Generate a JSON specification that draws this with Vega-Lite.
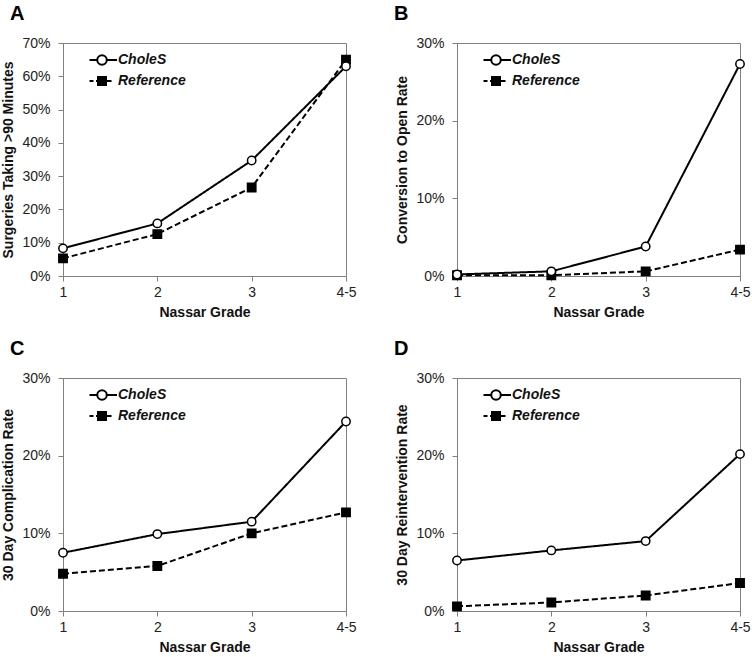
{
  "$schema": "https://vega.github.io/schema/vega-lite/v6.json",
  "padding": {"left": 1, "top": 3, "right": 5, "bottom": 5},
  "background": "white",
  "config": {
    "font": "Liberation Sans",
    "view": {"stroke": "#808080", "strokeWidth": 1},
    "axis": {"grid": false, "domainColor": "#808080", "tickColor": "#808080", "tickSize": 5, "labelFont": "Liberation Sans", "labelFontSize": 14, "labelColor": "#222222", "titleFont": "Liberation Sans", "titleFontSize": 14, "titleFontWeight": "bold", "titleColor": "#111111"},
    "axisX": {"labelAngle": 0, "labelPadding": 4, "titlePadding": 6},
    "axisY": {"labelPadding": 8, "titlePadding": 6},
    "legend": {"orient": "none", "legendX": 32, "legendY": 10, "symbolSize": 100, "labelFont": "Liberation Sans", "labelFontSize": 14, "labelFontWeight": "bold", "labelFontStyle": "italic", "labelColor": "#111111", "labelOffset": 9, "rowPadding": 4, "padding": 0},
    "title": {"fontSize": 20, "fontWeight": "bold", "anchor": "start", "frame": "bounds", "color": "#000000", "font": "Liberation Sans", "offset": 12}
  },
  "datasets": {
    "d": [
      {"panel": "A", "series": "Reference", "grade": "1", "value": 0.053},
      {"panel": "A", "series": "Reference", "grade": "2", "value": 0.126},
      {"panel": "A", "series": "Reference", "grade": "3", "value": 0.266},
      {"panel": "A", "series": "Reference", "grade": "4-5", "value": 0.650},
      {"panel": "A", "series": "CholeS", "grade": "1", "value": 0.083},
      {"panel": "A", "series": "CholeS", "grade": "2", "value": 0.158},
      {"panel": "A", "series": "CholeS", "grade": "3", "value": 0.347},
      {"panel": "A", "series": "CholeS", "grade": "4-5", "value": 0.630},
      {"panel": "B", "series": "Reference", "grade": "1", "value": 0.001},
      {"panel": "B", "series": "Reference", "grade": "2", "value": 0.001},
      {"panel": "B", "series": "Reference", "grade": "3", "value": 0.006},
      {"panel": "B", "series": "Reference", "grade": "4-5", "value": 0.034},
      {"panel": "B", "series": "CholeS", "grade": "1", "value": 0.002},
      {"panel": "B", "series": "CholeS", "grade": "2", "value": 0.006},
      {"panel": "B", "series": "CholeS", "grade": "3", "value": 0.038},
      {"panel": "B", "series": "CholeS", "grade": "4-5", "value": 0.273},
      {"panel": "C", "series": "Reference", "grade": "1", "value": 0.048},
      {"panel": "C", "series": "Reference", "grade": "2", "value": 0.058},
      {"panel": "C", "series": "Reference", "grade": "3", "value": 0.100},
      {"panel": "C", "series": "Reference", "grade": "4-5", "value": 0.127},
      {"panel": "C", "series": "CholeS", "grade": "1", "value": 0.075},
      {"panel": "C", "series": "CholeS", "grade": "2", "value": 0.099},
      {"panel": "C", "series": "CholeS", "grade": "3", "value": 0.115},
      {"panel": "C", "series": "CholeS", "grade": "4-5", "value": 0.244},
      {"panel": "D", "series": "Reference", "grade": "1", "value": 0.006},
      {"panel": "D", "series": "Reference", "grade": "2", "value": 0.011},
      {"panel": "D", "series": "Reference", "grade": "3", "value": 0.020},
      {"panel": "D", "series": "Reference", "grade": "4-5", "value": 0.036},
      {"panel": "D", "series": "CholeS", "grade": "1", "value": 0.065},
      {"panel": "D", "series": "CholeS", "grade": "2", "value": 0.078},
      {"panel": "D", "series": "CholeS", "grade": "3", "value": 0.090},
      {"panel": "D", "series": "CholeS", "grade": "4-5", "value": 0.202}
    ]
  },
  "bounds": "flush",
  "columns": 2,
  "spacing": {"row": 102, "column": 111},
  "resolve": {"scale": {"fill": "independent", "y": "independent"}, "legend": {"fill": "independent"}},
  "concat": [
    {
      "title": {"text": "A", "dx": 8},
      "width": 283, "height": 233,
      "data": {"name": "d"},
      "transform": [{"filter": "datum.panel === 'A'"}],
      "encoding": {
        "x": {"field": "grade", "type": "ordinal", "scale": {"type": "point", "padding": 0, "domain": ["1", "2", "3", "4-5"]}, "axis": {"title": "Nassar Grade"}},
        "y": {"field": "value", "type": "quantitative", "scale": {"domain": [0, 0.7], "nice": false}, "axis": {"title": "Surgeries Taking >90 Minutes", "values": [0, 0.1, 0.2, 0.3, 0.4, 0.5, 0.6, 0.7], "format": ".0%"}}
      },
      "layer": [
        {"mark": {"type": "line", "color": "black", "strokeWidth": 2}, "encoding": {"detail": {"field": "series", "type": "nominal"}, "strokeDash": {"condition": {"test": "datum.series === 'Reference'", "value": [6, 3]}, "value": [1, 0]}}},
        {"mark": {"type": "point", "filled": true, "stroke": "black", "strokeWidth": 1.5, "size": 70, "opacity": 1},
         "encoding": {
           "shape": {"condition": {"test": "datum.series === 'CholeS'", "value": "circle"}, "value": "square"},
           "fill": {"field": "series", "type": "nominal", "scale": {"domain": ["CholeS", "Reference"], "range": ["white", "black"]},
             "legend": {"title": null, "encoding": {"symbols": {
               "shape": {"condition": {"test": "datum.value === 'CholeS'", "value": "M-2.5,0H-0.95M0.95,0H3M-0.95,0A0.95,0.95 0 1,1 0.95,0A0.95,0.95 0 1,1 -0.95,0Z"}, "value": "M-2.5,0H-1.7M-1.2,0H-0.8M0.8,0H1.9M-0.8,-0.8H0.8V0.8H-0.8Z"},
               "stroke": {"value": "black"}, "strokeWidth": {"value": 2}, "size": {"value": 100}, "opacity": {"value": 1}}}}}
         }}
      ]
    },
    {
      "title": {"text": "B", "dx": -2},
      "width": 283, "height": 233,
      "data": {"name": "d"},
      "transform": [{"filter": "datum.panel === 'B'"}],
      "encoding": {
        "x": {"field": "grade", "type": "ordinal", "scale": {"type": "point", "padding": 0, "domain": ["1", "2", "3", "4-5"]}, "axis": {"title": "Nassar Grade"}},
        "y": {"field": "value", "type": "quantitative", "scale": {"domain": [0, 0.3], "nice": false}, "axis": {"title": "Conversion to Open Rate", "values": [0, 0.1, 0.2, 0.3], "format": ".0%"}}
      },
      "layer": [
        {"mark": {"type": "line", "color": "black", "strokeWidth": 2}, "encoding": {"detail": {"field": "series", "type": "nominal"}, "strokeDash": {"condition": {"test": "datum.series === 'Reference'", "value": [6, 3]}, "value": [1, 0]}}},
        {"mark": {"type": "point", "filled": true, "stroke": "black", "strokeWidth": 1.5, "size": 70, "opacity": 1},
         "encoding": {
           "shape": {"condition": {"test": "datum.series === 'CholeS'", "value": "circle"}, "value": "square"},
           "fill": {"field": "series", "type": "nominal", "scale": {"domain": ["CholeS", "Reference"], "range": ["white", "black"]},
             "legend": {"title": null, "encoding": {"symbols": {
               "shape": {"condition": {"test": "datum.value === 'CholeS'", "value": "M-2.5,0H-0.95M0.95,0H3M-0.95,0A0.95,0.95 0 1,1 0.95,0A0.95,0.95 0 1,1 -0.95,0Z"}, "value": "M-2.5,0H-1.7M-1.2,0H-0.8M0.8,0H1.9M-0.8,-0.8H0.8V0.8H-0.8Z"},
               "stroke": {"value": "black"}, "strokeWidth": {"value": 2}, "size": {"value": 100}, "opacity": {"value": 1}}}}}
         }}
      ]
    },
    {
      "title": {"text": "C", "dx": 8},
      "width": 283, "height": 233,
      "data": {"name": "d"},
      "transform": [{"filter": "datum.panel === 'C'"}],
      "encoding": {
        "x": {"field": "grade", "type": "ordinal", "scale": {"type": "point", "padding": 0, "domain": ["1", "2", "3", "4-5"]}, "axis": {"title": "Nassar Grade"}},
        "y": {"field": "value", "type": "quantitative", "scale": {"domain": [0, 0.3], "nice": false}, "axis": {"title": "30 Day Complication Rate", "values": [0, 0.1, 0.2, 0.3], "format": ".0%"}}
      },
      "layer": [
        {"mark": {"type": "line", "color": "black", "strokeWidth": 2}, "encoding": {"detail": {"field": "series", "type": "nominal"}, "strokeDash": {"condition": {"test": "datum.series === 'Reference'", "value": [6, 3]}, "value": [1, 0]}}},
        {"mark": {"type": "point", "filled": true, "stroke": "black", "strokeWidth": 1.5, "size": 70, "opacity": 1},
         "encoding": {
           "shape": {"condition": {"test": "datum.series === 'CholeS'", "value": "circle"}, "value": "square"},
           "fill": {"field": "series", "type": "nominal", "scale": {"domain": ["CholeS", "Reference"], "range": ["white", "black"]},
             "legend": {"title": null, "encoding": {"symbols": {
               "shape": {"condition": {"test": "datum.value === 'CholeS'", "value": "M-2.5,0H-0.95M0.95,0H3M-0.95,0A0.95,0.95 0 1,1 0.95,0A0.95,0.95 0 1,1 -0.95,0Z"}, "value": "M-2.5,0H-1.7M-1.2,0H-0.8M0.8,0H1.9M-0.8,-0.8H0.8V0.8H-0.8Z"},
               "stroke": {"value": "black"}, "strokeWidth": {"value": 2}, "size": {"value": 100}, "opacity": {"value": 1}}}}}
         }}
      ]
    },
    {
      "title": {"text": "D", "dx": -2},
      "width": 283, "height": 233,
      "data": {"name": "d"},
      "transform": [{"filter": "datum.panel === 'D'"}],
      "encoding": {
        "x": {"field": "grade", "type": "ordinal", "scale": {"type": "point", "padding": 0, "domain": ["1", "2", "3", "4-5"]}, "axis": {"title": "Nassar Grade"}},
        "y": {"field": "value", "type": "quantitative", "scale": {"domain": [0, 0.3], "nice": false}, "axis": {"title": "30 Day Reintervention  Rate", "values": [0, 0.1, 0.2, 0.3], "format": ".0%"}}
      },
      "layer": [
        {"mark": {"type": "line", "color": "black", "strokeWidth": 2}, "encoding": {"detail": {"field": "series", "type": "nominal"}, "strokeDash": {"condition": {"test": "datum.series === 'Reference'", "value": [6, 3]}, "value": [1, 0]}}},
        {"mark": {"type": "point", "filled": true, "stroke": "black", "strokeWidth": 1.5, "size": 70, "opacity": 1},
         "encoding": {
           "shape": {"condition": {"test": "datum.series === 'CholeS'", "value": "circle"}, "value": "square"},
           "fill": {"field": "series", "type": "nominal", "scale": {"domain": ["CholeS", "Reference"], "range": ["white", "black"]},
             "legend": {"title": null, "encoding": {"symbols": {
               "shape": {"condition": {"test": "datum.value === 'CholeS'", "value": "M-2.5,0H-0.95M0.95,0H3M-0.95,0A0.95,0.95 0 1,1 0.95,0A0.95,0.95 0 1,1 -0.95,0Z"}, "value": "M-2.5,0H-1.7M-1.2,0H-0.8M0.8,0H1.9M-0.8,-0.8H0.8V0.8H-0.8Z"},
               "stroke": {"value": "black"}, "strokeWidth": {"value": 2}, "size": {"value": 100}, "opacity": {"value": 1}}}}}
         }}
      ]
    }
  ]
}
